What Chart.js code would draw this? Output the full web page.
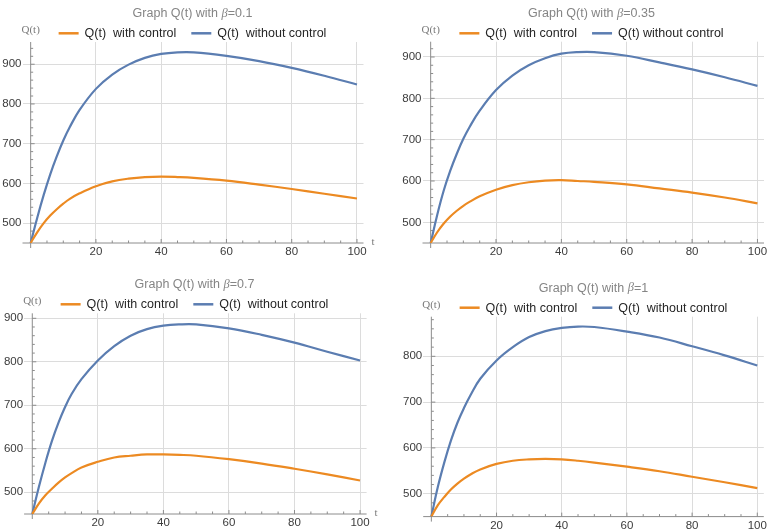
<!DOCTYPE html>
<html>
<head>
<meta charset="utf-8">
<script src="https://cdn.jsdelivr.net/npm/chart.js@4.4.0/dist/chart.umd.min.js"></script>
<style>
  html, body { margin: 0; padding: 0; background: #fff; }
  #wrap { position: relative; width: 772px; height: 532px; }
  .panel { position: absolute; width: 386px; height: 266px; }
</style>
</head>
<body>
<div id="wrap">
  <div class="panel" style="left:0;top:0"><canvas id="c1" width="386" height="266"></canvas></div>
  <div class="panel" style="left:386px;top:0"><canvas id="c2" width="386" height="266"></canvas></div>
  <div class="panel" style="left:0;top:266px"><canvas id="c3" width="386" height="266"></canvas></div>
  <div class="panel" style="left:386px;top:266px"><canvas id="c4" width="386" height="266"></canvas></div>
</div>
<script>
// ===== DATA =====
const tValues = [0, 2, 4, 6, 8, 10, 12, 15, 20, 25, 30, 35, 40, 45, 50, 60, 70, 80, 90, 100];

// beta = 0.1
const withCtrl01    = [450, 477, 500, 519, 535, 549, 561, 575, 593, 605, 612, 616, 617, 616, 614, 607, 597, 586, 574, 562];
const withoutCtrl01 = [450, 513, 571, 623, 668, 708, 742, 785, 838, 874, 899, 916, 926, 930, 930, 921, 908, 891, 871, 849];
// beta = 0.35
const withCtrl035    = [450, 476, 497, 514, 528, 540, 550, 563, 579, 590, 597, 601, 602, 600, 598, 592, 582, 572, 560, 546];
const withoutCtrl035 = [450, 518, 577, 625, 666, 702, 732, 770, 820, 855, 880, 897, 908, 912, 912, 903, 887, 870, 851, 830];
// beta = 0.7
const withCtrl07    = [450, 474, 493, 508, 522, 534, 544, 557, 570, 580, 584, 587, 587, 586, 584, 576, 566, 554, 541, 527];
const withoutCtrl07 = [450, 512, 568, 618, 660, 696, 726, 760, 803, 836, 860, 875, 883, 886, 886, 877, 862, 844, 823, 803];
// beta = 1
const withCtrl1    = [450, 475, 493, 509, 522, 533, 542, 553, 565, 572, 575, 576, 575, 572, 568, 559, 549, 537, 525, 512];
const withoutCtrl1 = [450, 515, 569, 616, 655, 687, 715, 751, 791, 820, 842, 855, 862, 865, 864, 854, 841, 822, 802, 780];

const xTickValues = [20, 40, 60, 80, 100];
const yTickValues = [500, 600, 700, 800, 900];

const ORANGE = "#EC8A22";
const BLUE = "#5B7DB1";

// axes + title + legend drawn Mathematica-style
const framePlugin = {
  id: "frame",
  beforeDatasetsDraw(chart) {
    const { ctx, chartArea, scales: { x, y } } = chart;
    const x0 = x.getPixelForValue(0);
    const yBase = y.getPixelForValue(450);
    ctx.save();
    ctx.strokeStyle = "#8c8c8c";
    ctx.lineWidth = 1;
    ctx.beginPath();
    ctx.moveTo(chartArea.left, yBase);
    ctx.lineTo(chartArea.right, yBase);
    ctx.moveTo(x0, chartArea.top);
    ctx.lineTo(x0, yBase + 5);
    for (let t = 5; t <= 100; t += 5) {
      const px = x.getPixelForValue(t);
      const len = t % 20 === 0 ? 4 : 2.5;
      ctx.moveTo(px, yBase);
      ctx.lineTo(px, yBase - len);
    }
    for (let v = 460; v <= y.max; v += 20) {
      const py = y.getPixelForValue(v);
      const len = v % 100 === 0 ? 4 : 2.5;
      ctx.moveTo(x0, py);
      ctx.lineTo(x0 + len, py);
    }
    ctx.stroke();
    ctx.restore();
  },
  afterDraw(chart, args, opts) {
    const { ctx, chartArea, scales: { x, y } } = chart;
    ctx.save();
    ctx.textBaseline = "middle";

    // legend
    ctx.font = "12.5px 'Liberation Sans', Arial, sans-serif";
    const items = chart.data.datasets;
    let total = 0;
    items.forEach((d, i) => {
      total += 26 + ctx.measureText(d.label).width + (i < items.length - 1 ? 15 : 0);
    });
    let lx = opts.centerX - total / 2;
    items.forEach((d) => {
      ctx.strokeStyle = d.borderColor;
      ctx.lineWidth = 2.5;
      ctx.beginPath();
      ctx.moveTo(lx, opts.legendY);
      ctx.lineTo(lx + 20, opts.legendY);
      ctx.stroke();
      ctx.fillStyle = "#262626";
      ctx.textAlign = "left";
      ctx.fillText(d.label, lx + 26, opts.legendY + 0.5);
      lx += 26 + ctx.measureText(d.label).width + 15;
    });

    // title with italic beta
    const tY = opts.legendY - 19.5;
    const fNorm = "12.5px 'Liberation Sans', Arial, sans-serif";
    const fItal = "italic 12.5px 'Liberation Serif', 'Times New Roman', serif";
    const parts = [["Graph Q(t) with ", fNorm], ["β", fItal], ["=" + opts.beta, fNorm]];
    let tw = 0;
    parts.forEach(p => { ctx.font = p[1]; tw += ctx.measureText(p[0]).width; });
    let tx = opts.centerX - tw / 2;
    ctx.fillStyle = "#858585";
    ctx.textAlign = "left";
    parts.forEach(p => { ctx.font = p[1]; ctx.fillText(p[0], tx, tY); tx += ctx.measureText(p[0]).width; });

    // axis labels
    ctx.font = "11px 'Liberation Serif', 'Times New Roman', serif";
    ctx.fillStyle = "#7a7a7a";
    ctx.textAlign = "center";
    ctx.fillText("Q(t)", x.getPixelForValue(0), chartArea.top - 12);
    if (opts.showT) {
      ctx.textAlign = "left";
      ctx.fillText("t", chartArea.right + 8, y.getPixelForValue(450) - 1);
    }
    ctx.restore();
  }
};

function makePanel(id, beta, withCtrl, withoutCtrl, withoutLabel, yMax, area, legend) {
  const W = 386, H = 266;
  const toPoints = arr => tValues.map((t, i) => ({ x: t, y: arr[i] }));
  new Chart(document.getElementById(id), {
    type: "line",
    data: {
      datasets: [
        {
          label: "Q(t)  with control",
          data: toPoints(withCtrl),
          borderColor: ORANGE,
          borderWidth: 2.2,
          pointRadius: 0,
          fill: false,
          tension: 0.4
        },
        {
          label: withoutLabel,
          data: toPoints(withoutCtrl),
          borderColor: BLUE,
          borderWidth: 2.2,
          pointRadius: 0,
          fill: false,
          tension: 0.4
        }
      ]
    },
    options: {
      responsive: false,
      animation: false,
      layout: { padding: { left: 0, right: W - area.right, top: area.top, bottom: 0 } },
      plugins: {
        legend: { display: false },
        title: { display: false },
        tooltip: { enabled: false },
        frame: { beta: beta, centerX: legend.centerX, legendY: legend.y, showT: legend.showT }
      },
      scales: {
        x: {
          type: "linear",
          min: -2.5,
          max: 102,
          afterBuildTicks: s => { s.ticks = xTickValues.map(v => ({ value: v })); },
          afterFit: s => { s.height = H - area.bottom; },
          border: { display: false },
          grid: { color: "#dcdcdc", drawTicks: false },
          ticks: {
            padding: 2,
            color: "#3c3c3c",
            font: { family: "'Liberation Sans', Arial, sans-serif", size: 11.5 },
            maxRotation: 0
          }
        },
        y: {
          min: 450,
          max: yMax,
          afterBuildTicks: s => { s.ticks = yTickValues.filter(v => v <= yMax).map(v => ({ value: v })); },
          afterFit: s => { s.width = area.left; },
          border: { display: false },
          grid: { color: "#dcdcdc", drawTicks: false },
          ticks: {
            padding: 1,
            color: "#3c3c3c",
            font: { family: "'Liberation Sans', Arial, sans-serif", size: 11.5 }
          }
        }
      }
    },
    plugins: [framePlugin]
  });
}

makePanel("c1", "0.1", withCtrl01, withoutCtrl01, "Q(t)  without control", 956,
  { left: 22.5, right: 363.5, top: 42, bottom: 243 }, { centerX: 192.5, y: 33.3, showT: true });
makePanel("c2", "0.35", withCtrl035, withoutCtrl035, "Q(t) without control", 937,
  { left: 36.5, right: 378, top: 41.7, bottom: 243 }, { centerX: 205.5, y: 33.3, showT: false });
makePanel("c3", "0.7", withCtrl07, withoutCtrl07, "Q(t)  without control", 911.5,
  { left: 24.1, right: 366.6, top: 47.3, bottom: 248 }, { centerX: 194.5, y: 38.3, showT: true });
makePanel("c4", "1", withCtrl1, withoutCtrl1, "Q(t)  without control", 886.5,
  { left: 37.2, right: 377.8, top: 50.7, bottom: 250.6 }, { centerX: 207.5, y: 41.7, showT: false });
</script>
</body>
</html>
